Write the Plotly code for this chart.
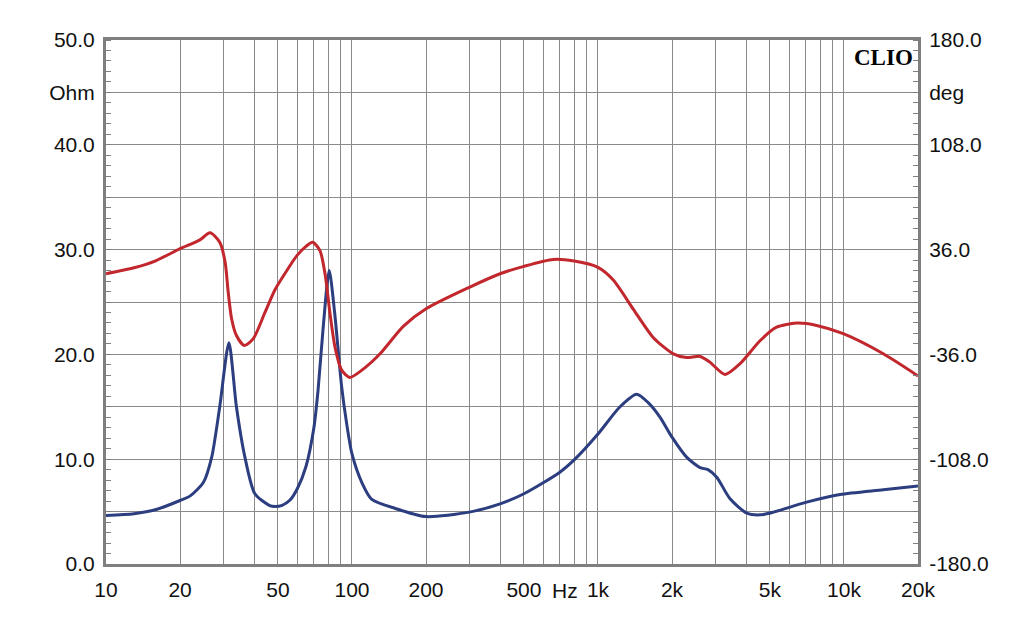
import math
import plotly.graph_objects as go

# Impedance modulus (Ohm)
imp_freq = [10, 13, 16, 20, 22, 24.9, 26.9, 29.0, 31.6, 33.9, 36.7, 40.3, 46.3, 48.7, 52, 56, 60, 65,
            70, 72.8, 76.2, 80.8, 85, 90.8, 95, 100, 110, 120, 150, 200, 300, 400, 500, 700, 806,
            1000, 1224, 1436, 1600, 1789, 2000, 2292, 2600, 2800, 3040, 3443, 4030, 4558, 5170,
            7050, 9640, 14450, 20000]
imp_ohm = [4.63, 4.8, 5.2, 6.06, 6.5, 7.8, 10.2, 15.0, 21.1, 15.0, 10.2, 6.7, 5.58, 5.49, 5.6, 6.1,
           7.2, 9.3, 13.0, 16.6, 22.3, 28.0, 24.0, 16.9, 13.5, 10.5, 7.7, 6.2, 5.3, 4.53, 4.95, 5.74,
           6.7, 8.76, 10.0, 12.4, 14.96, 16.2, 15.4, 14.0, 12.1, 10.2, 9.2, 9.0, 8.28, 6.22, 4.85,
           4.69, 4.95, 5.9, 6.63, 7.08, 7.45]

# Impedance phase (deg)
ph_freq = [10, 13, 16, 20, 24, 26.5, 29.0, 30.5, 31.4, 32.4, 33.9, 36.5, 39.7, 44.2, 48.7, 55, 59.6,
           65, 69.2, 74.1, 77.7, 81.4, 85.3, 90.8, 98, 114, 130, 162, 200, 300, 400, 500, 658, 800,
           1000, 1154, 1393, 1680, 2025, 2292, 2600, 2850, 3283, 3774, 4558, 5322, 6424, 7744,
           9937, 14450, 20000]
ph_deg = [19.4, 23.5, 28.5, 36.6, 42.5, 47.5, 41.0, 27.4, 6.5, -11.5, -23.0, -29.9, -25.2, -7.5,
          8.6, 23.0, 31.7, 38.2, 41.0, 35.3, 19.4, -7.9, -31.0, -46.8, -51.8, -44.6, -35.6, -16.6,
          -4.7, 10.1, 19.4, 24.5, 29.2, 28.1, 23.8, 15.1, -5.0, -24.5, -35.6, -38.2, -37.4, -41.3,
          -49.8, -42.5, -26.6, -17.3, -14.5, -16.1, -21.8, -35.6, -50.8]

x_grid = [m * 10 ** e for e in (1, 2, 3) for m in range(1, 10)] + [10000, 20000]
x_labels = {10: "10", 20: "20", 50: "50", 100: "100", 200: "200", 500: "500", 1000: "1k",
            2000: "2k", 5000: "5k", 10000: "10k", 20000: "20k"}
x_text = [x_labels.get(v, "") for v in x_grid]

y_vals = [0, 5, 10, 15, 20, 25, 30, 35, 40, 45, 50]
y_text = ["0.0", "", "10.0", "", "20.0", "", "30.0", "", "40.0", "Ohm", "50.0"]
y2_vals = [-180, -144, -108, -72, -36, 0, 36, 72, 108, 144, 180]
y2_text = ["-180.0", "", "-108.0", "", "-36.0", "", "36.0", "", "108.0", "deg", "180.0"]

FONT = "Liberation Sans, Arial, sans-serif"
GRID = "#8a8a8a"
BORDER = "#7f7f7f"

fig = go.Figure()
fig.add_trace(go.Scatter(x=ph_freq, y=ph_deg, yaxis="y2", mode="lines",
                         line=dict(color="#c1272d", width=3, shape="spline", smoothing=0.7),
                         showlegend=False))
fig.add_trace(go.Scatter(x=imp_freq, y=imp_ohm, mode="lines",
                         line=dict(color="#2c3e80", width=3, shape="spline", smoothing=0.7),
                         showlegend=False))

fig.update_layout(
    width=1024, height=627,
    margin=dict(l=106, r=106, t=40, b=63),
    paper_bgcolor="white", plot_bgcolor="white",
    font=dict(family=FONT, size=21, color="#111111"),
    xaxis=dict(type="log", range=[1, math.log10(20000)], tickmode="array",
               tickvals=x_grid, ticktext=x_text, showgrid=True, gridcolor=GRID, gridwidth=1,
               showline=True, linecolor=BORDER, linewidth=3, mirror=True,
               ticks="outside", ticklen=5, tickcolor="rgba(0,0,0,0)", zeroline=False),
    yaxis=dict(range=[0, 50], tickmode="array", tickvals=y_vals, ticktext=y_text,
               showgrid=True, gridcolor=GRID, gridwidth=1, zeroline=False,
               showline=True, linecolor=BORDER, linewidth=3, mirror=True,
               ticks="outside", ticklen=4, tickcolor="rgba(0,0,0,0)",
               minor=dict(tickmode="linear", tick0=0, dtick=1, ticks="inside", ticklen=5,
                          tickcolor=BORDER, tickwidth=1, showgrid=False)),
    yaxis2=dict(range=[-180, 180], overlaying="y", side="right", tickmode="array",
                tickvals=y2_vals, ticktext=y2_text, showgrid=False, zeroline=False,
                showline=False, ticks="outside", ticklen=6, tickcolor="rgba(0,0,0,0)",
                minor=dict(tickmode="linear", tick0=-180, dtick=7.2, ticks="inside", ticklen=5,
                           tickcolor=BORDER, tickwidth=1, showgrid=False)),
    annotations=[
        dict(text="Hz", xref="x", yref="paper", x=math.log10(735), y=-0.0505,
             xanchor="center", yanchor="middle", showarrow=False,
             font=dict(family=FONT, size=21, color="#111111")),
        dict(text="<b>CLIO</b>", xref="paper", yref="paper", x=0.9965, y=0.995,
             xanchor="right", yanchor="top", showarrow=False,
             font=dict(family="Liberation Serif, Times New Roman, serif", size=23, color="#000000")),
    ],
)

fig.write_html("out.html")
